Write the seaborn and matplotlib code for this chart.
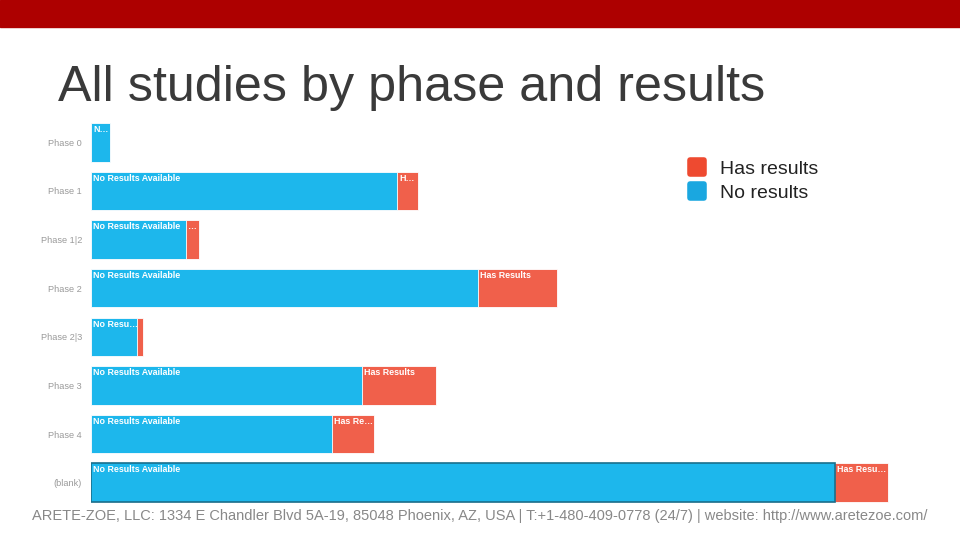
import pandas as pd
import matplotlib.pyplot as plt
import seaborn as sns
from matplotlib.lines import Line2D
from matplotlib.markers import MarkerStyle
from matplotlib.patches import Rectangle

phases = ['Phase 0', 'Phase 1', 'Phase 1|2', 'Phase 2', 'Phase 2|3', 'Phase 3', 'Phase 4', '(blank)']
no_results = [19, 306, 95, 387, 46, 271, 241, 744]
has_results = [0, 21, 13, 79, 6, 74, 42, 53]
no_labels = ['N…', 'No Results Available', 'No Results Available', 'No Results Available',
             'No Resu…', 'No Results Available', 'No Results Available', 'No Results Available']
has_labels = ['', 'H…', '…', 'Has Results', '', 'Has Results', 'Has Re…', 'Has Resu…']

blue = '#1db7ec'
red = '#f0604b'

sns.set_theme(style='white')
plt.rcParams['font.family'] = ['Liberation Sans', 'DejaVu Sans']

df = pd.DataFrame({'phase': phases, 'no': no_results, 'has': has_results})
df['total'] = df['no'] + df['has']

fig = plt.figure(figsize=(9.6, 5.4), dpi=100)
fig.patch.set_facecolor('white')

# red band on top of the slide
fig.add_artist(Rectangle((0, 1 - 27 / 540), 1, 27 / 540, transform=fig.transFigure,
                         color='#ad0000', zorder=0))
fig.text(58 / 960, 1 - 101 / 540, 'All studies by phase and results', fontsize=36.2,
         color='#3a3a3a', va='baseline', ha='left')

ax = fig.add_axes([91 / 960, 33 / 540, 809 / 960, 389 / 540])
ax.set_zorder(2)
ax.patch.set_alpha(0)

sns.barplot(data=df, y='phase', x='total', color=red, saturation=1, width=0.79,
            orient='h', edgecolor='white', linewidth=0.6, ax=ax)
sns.barplot(data=df, y='phase', x='no', color=blue, saturation=1, width=0.79,
            orient='h', edgecolor='white', linewidth=0.6, ax=ax)
ax.containers[1][7].set_edgecolor('#1a6f8c')
ax.containers[1][7].set_linewidth(1.2)

for i, row in df.iterrows():
    top = i - 0.395 + 0.04
    ax.text(2, top, no_labels[i], color='white', fontsize=6.4, fontweight='bold',
            va='top', ha='left')
    if has_labels[i]:
        ax.text(row['no'] + 2, top, has_labels[i], color='white', fontsize=6.4,
                fontweight='bold', va='top', ha='left')

ax.set_xlim(0, 809)
ax.set_ylim(7.5, -0.5)
ax.set_xlabel('')
ax.set_ylabel('')
ax.set_xticks([])
ax.tick_params(axis='y', length=0, pad=6.5, labelsize=6.6, labelcolor='#9a9a9a')
for s in ['left', 'right', 'top', 'bottom']:
    ax.spines[s].set_visible(False)

handles = [
    Line2D([], [], ls='', marker=MarkerStyle('s', joinstyle='round'), markersize=9.5,
           markeredgewidth=4, color='#ee4a30', label='Has results'),
    Line2D([], [], ls='', marker=MarkerStyle('s', joinstyle='round'), markersize=9.5,
           markeredgewidth=4, color='#1aa7e0', label='No results'),
]
fig.legend(handles=handles, loc='upper left', bbox_to_anchor=(687 / 960, 1 - 160 / 540),
           frameon=False, fontsize=14, labelcolor='#222222', handlelength=1.0,
           handletextpad=0.7, labelspacing=0.34, borderaxespad=0, borderpad=0)

fig.text(480 / 960, 1 - 516 / 540,
         'ARETE-ZOE, LLC: 1334 E Chandler Blvd 5A-19, 85048 Phoenix, AZ, USA | '
         'T:+1-480-409-0778 (24/7) | website: http://www.aretezoe.com/',
         fontsize=10.5, color='#888888', ha='center', va='center', zorder=0)

fig.savefig('out.png', dpi=100)
